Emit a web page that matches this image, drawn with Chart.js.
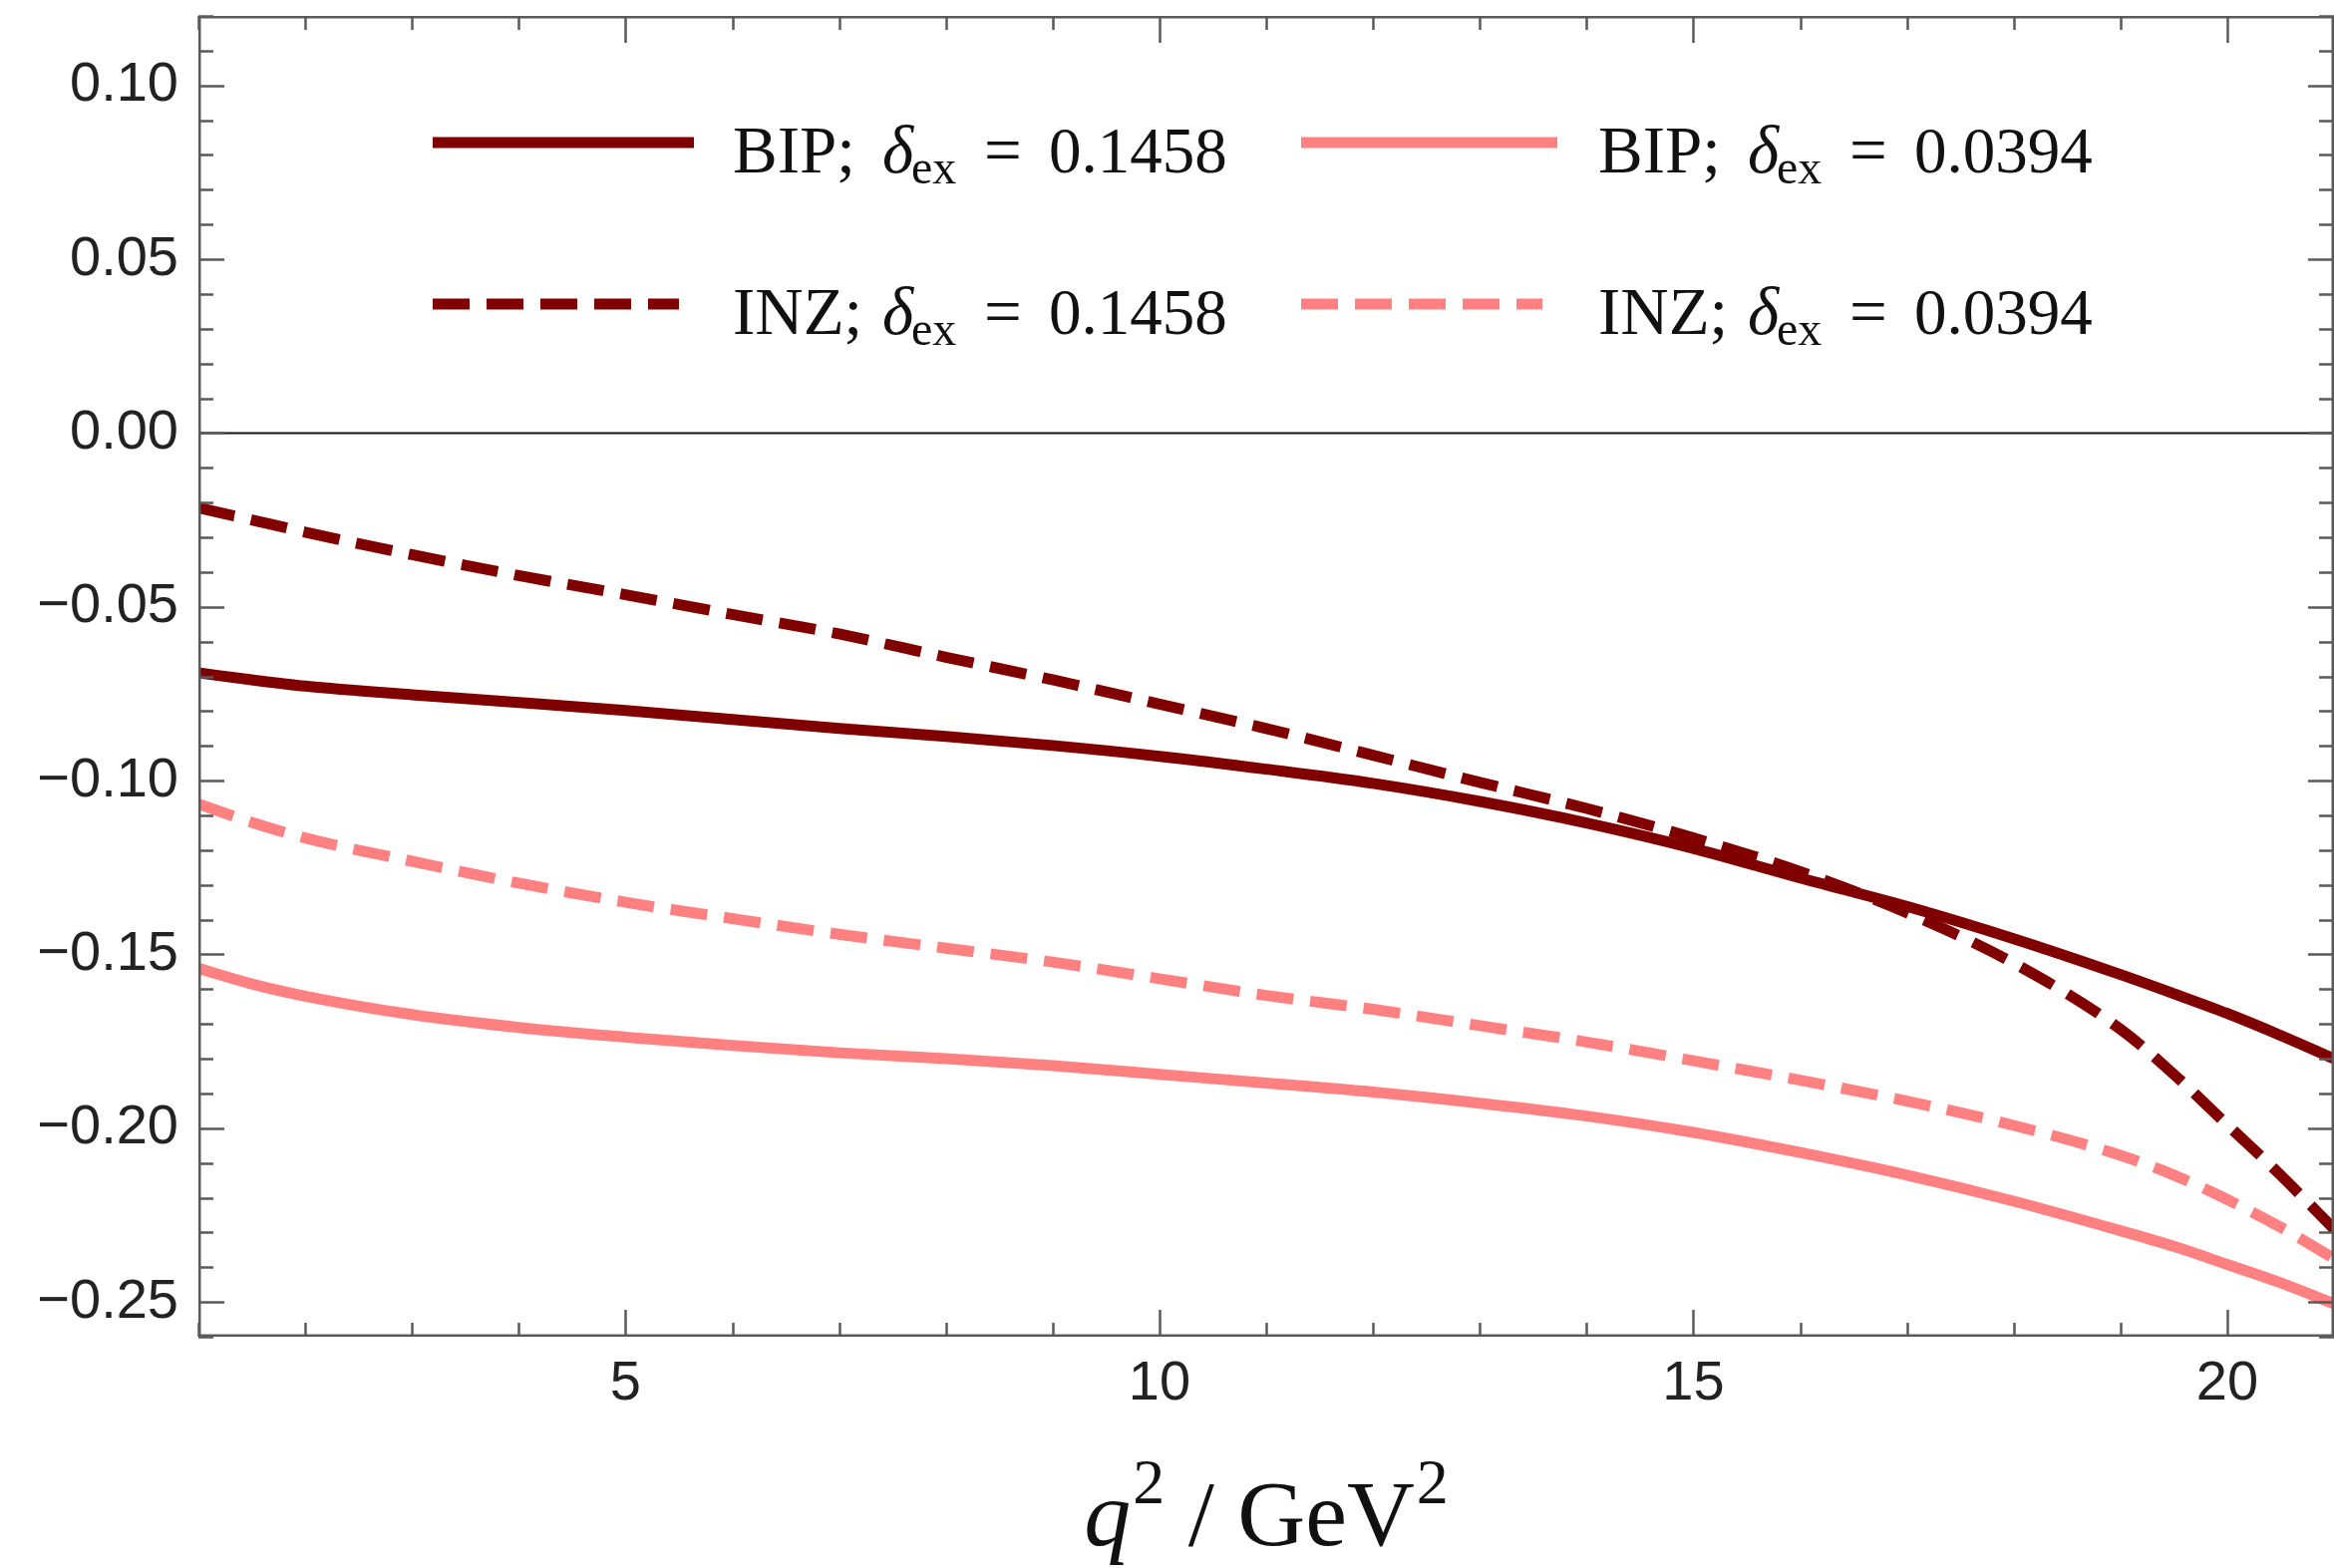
<!DOCTYPE html>
<html>
<head>
<meta charset="utf-8">
<script src="https://cdn.jsdelivr.net/npm/chart.js@4.4.1/dist/chart.umd.min.js"></script>
<style>
html,body{margin:0;padding:0;background:#fff;}
#wrap{width:2341px;height:1573px;position:relative;}
</style>
</head>
<body>
<div id="wrap"><canvas id="c" width="2341" height="1573"></canvas></div>
<script>
// ---- data ----
const q2 = [1, 1.5, 2, 3, 4, 5, 6, 7, 8, 9, 10, 11, 12, 13, 14, 15, 16, 17, 18, 19, 19.5, 20, 20.5, 21];
const bipHigh = [-0.069, -0.071, -0.0728, -0.0753, -0.0775, -0.0798, -0.0824, -0.085, -0.0873, -0.0899, -0.093, -0.0967, -0.1008, -0.106, -0.1122, -0.1195, -0.128, -0.1362, -0.1455, -0.1558, -0.1613, -0.167, -0.1733, -0.18];
const bipLow  = [-0.154, -0.1585, -0.162, -0.1673, -0.171, -0.1738, -0.1762, -0.1783, -0.18, -0.182, -0.1845, -0.187, -0.1896, -0.1928, -0.1965, -0.2012, -0.207, -0.2135, -0.221, -0.2295, -0.234, -0.2392, -0.2445, -0.2505];
const inzHigh = [-0.0215, -0.025, -0.0285, -0.035, -0.041, -0.0465, -0.0522, -0.0578, -0.0645, -0.071, -0.078, -0.085, -0.0927, -0.1005, -0.108, -0.1165, -0.1262, -0.138, -0.1525, -0.1715, -0.1845, -0.199, -0.2135, -0.229];
const inzLow  = [-0.1067, -0.112, -0.1165, -0.1232, -0.1295, -0.135, -0.1397, -0.1442, -0.1482, -0.1522, -0.157, -0.1618, -0.1658, -0.1705, -0.1752, -0.1806, -0.1862, -0.1922, -0.1992, -0.2078, -0.2135, -0.2205, -0.2285, -0.2375];
const seriesNames = ['BIP', 'BIP', 'INZ', 'INZ'];
const deltaValues = ['0.1458', '0.0394', '0.1458', '0.0394'];
const xTickValues = [5, 10, 15, 20];
const yTickValues = [-0.25, -0.20, -0.15, -0.10, -0.05, 0.00, 0.05, 0.10];
const xTitleParts = ['q', '2', ' / GeV', '2'];

const DARK = '#800000';
const LIGHT = '#FF8080';
const SERIF = "'Liberation Serif', 'DejaVu Serif', serif";
const SANS = "'Liberation Sans', Arial, sans-serif";

function pts(ys) { return q2.map((x, i) => ({x: x, y: ys[i]})); }

const seriesValues = [bipHigh, bipLow, inzHigh, inzLow];
const styles = [
  {color: DARK, dash: []},
  {color: LIGHT, dash: []},
  {color: DARK, dash: [37, 17]},
  {color: LIGHT, dash: [37, 17]}
];

const datasets = seriesValues.map((vals, i) => ({
  label: seriesNames[i] + '; \u03B4ex = ' + deltaValues[i],
  data: pts(vals),
  borderColor: styles[i].color,
  backgroundColor: styles[i].color,
  borderDash: styles[i].dash,
  borderWidth: 11,
  borderCapStyle: 'butt',
  pointRadius: 0,
  cubicInterpolationMode: 'monotone',
  fill: false
}));

const framePlugin = {
  id: 'framePlugin',
  beforeDatasetsDraw(chart) {
    const {ctx, chartArea: a, scales: {y}} = chart;
    const y0 = y.getPixelForValue(0);
    ctx.save();
    ctx.strokeStyle = '#111';
    ctx.lineWidth = 2;
    ctx.beginPath();
    ctx.moveTo(a.left, y0);
    ctx.lineTo(a.right, y0);
    ctx.stroke();
    ctx.restore();
  },
  afterDatasetsDraw(chart) {
    const {ctx, chartArea: a, scales: {x, y}} = chart;
    ctx.save();
    ctx.strokeStyle = '#5a5a5a';
    ctx.lineWidth = 2.5;
    ctx.beginPath();
    for (let v = Math.ceil(x.min); v <= Math.floor(x.max); v++) {
      const px = Math.round(x.getPixelForValue(v)) + 0.5;
      const len = (v % 5 === 0) ? 27 : 14;
      ctx.moveTo(px, a.bottom); ctx.lineTo(px, a.bottom - len);
      ctx.moveTo(px, a.top); ctx.lineTo(px, a.top + len);
    }
    for (let k = Math.ceil(y.min * 100 - 1e-6); k <= Math.floor(y.max * 100 + 1e-6); k++) {
      const py = Math.round(y.getPixelForValue(k / 100)) + 0.5;
      const len = (k % 5 === 0) ? 26 : 15;
      ctx.moveTo(a.left, py); ctx.lineTo(a.left + len, py);
      ctx.moveTo(a.right, py); ctx.lineTo(a.right - len, py);
    }
    ctx.stroke();
    ctx.strokeRect(a.left + 1.25, a.top + 1.25, a.right - a.left - 2.5, a.bottom - a.top - 2.5);
    ctx.restore();

    // legend (2 x 2 inside plot)
    const cols = [{l0: 434, l1: 696, tx: 735}, {l0: 1305, l1: 1562, tx: 1603}];
    const rows = [143, 305];
    const off = {delta: 150, sub: 179, eq: 252, num: 317};
    chart.data.datasets.forEach((ds, i) => {
      const c = cols[i % 2];
      const ly = rows[Math.floor(i / 2)];
      ctx.save();
      ctx.strokeStyle = ds.borderColor;
      ctx.lineWidth = 11;
      ctx.lineCap = 'butt';
      ctx.setLineDash(ds.borderDash.length ? ds.borderDash : []);
      ctx.beginPath();
      ctx.moveTo(c.l0, ly);
      ctx.lineTo(ds.borderDash.length ? c.l1 - 15 : c.l1, ly);
      ctx.stroke();
      ctx.setLineDash([]);
      ctx.fillStyle = '#111';
      ctx.textBaseline = 'alphabetic';
      ctx.textAlign = 'left';
      const base = ly + 30;
      ctx.font = '67px ' + SERIF;
      ctx.fillText(seriesNames[i] + ';', c.tx, base);
      ctx.font = 'italic 67px ' + SERIF;
      ctx.fillText('\u03B4', c.tx + off.delta, base);
      ctx.font = '48px ' + SERIF;
      ctx.fillText('ex', c.tx + off.sub, base + 11);
      ctx.font = '67px ' + SERIF;
      ctx.fillText('=', c.tx + off.eq, base);
      ctx.font = '65px ' + SERIF;
      ctx.fillText(deltaValues[i], c.tx + off.num, base);
      ctx.restore();
    });

    // x axis title q^2 / GeV^2
    ctx.save();
    ctx.fillStyle = '#111';
    ctx.textBaseline = 'alphabetic';
    ctx.textAlign = 'left';
    const fMain = '94px ' + SERIF, fItal = 'italic 94px ' + SERIF, fSup = '64px ' + SERIF;
    const parts = [
      {t: xTitleParts[0], f: fItal, dy: 0, gap: 2},
      {t: xTitleParts[1], f: fSup, dy: -42, gap: 0},
      {t: xTitleParts[2], f: fMain, dy: 0, gap: 2},
      {t: xTitleParts[3], f: fSup, dy: -42, gap: 0}
    ];
    let total = 0;
    parts.forEach(p => { ctx.font = p.f; p.w = ctx.measureText(p.t).width; total += p.w + p.gap; });
    let tx = (a.left + a.right) / 2 - total / 2;
    const tb = 1550;
    parts.forEach(p => { ctx.font = p.f; ctx.fillText(p.t, tx, tb + p.dy); tx += p.w + p.gap; });
    ctx.restore();
  }
};

const fmt = v => {
  const s = Math.abs(v).toFixed(2);
  return (v < -1e-9 ? '\u2212' : '') + s;
};

new Chart(document.getElementById('c'), {
  type: 'line',
  data: {datasets: datasets},
  options: {
    responsive: false,
    animation: false,
    devicePixelRatio: 1,
    layout: {padding: {top: 16, right: 0, bottom: 0, left: 0}},
    plugins: {legend: {display: false}, tooltip: {enabled: false}, title: {display: false}},
    scales: {
      x: {
        type: 'linear', min: 1, max: 21,
        grid: {display: false, drawTicks: false},
        border: {display: false},
        afterFit: s => { s.height = 232; s.paddingLeft = 0; s.paddingRight = 0; },
        afterBuildTicks: s => { s.ticks = xTickValues.map(v => ({value: v})); },
        ticks: {
          padding: 14,
          color: '#222',
          font: {family: SANS, size: 56},
          maxRotation: 0,
          autoSkip: false,
          callback: v => String(v)
        }
      },
      y: {
        type: 'linear', min: -0.26, max: 0.12,
        grid: {display: false, drawTicks: false},
        border: {display: false},
        afterFit: s => { s.width = 199; s.paddingTop = 0; s.paddingBottom = 0; },
        afterBuildTicks: s => { s.ticks = yTickValues.map(v => ({value: v})); },
        ticks: {
          padding: 20,
          color: '#222',
          font: {family: SANS, size: 56},
          autoSkip: false,
          callback: v => fmt(v)
        }
      }
    }
  },
  plugins: [framePlugin]
});
</script>
</body>
</html>
